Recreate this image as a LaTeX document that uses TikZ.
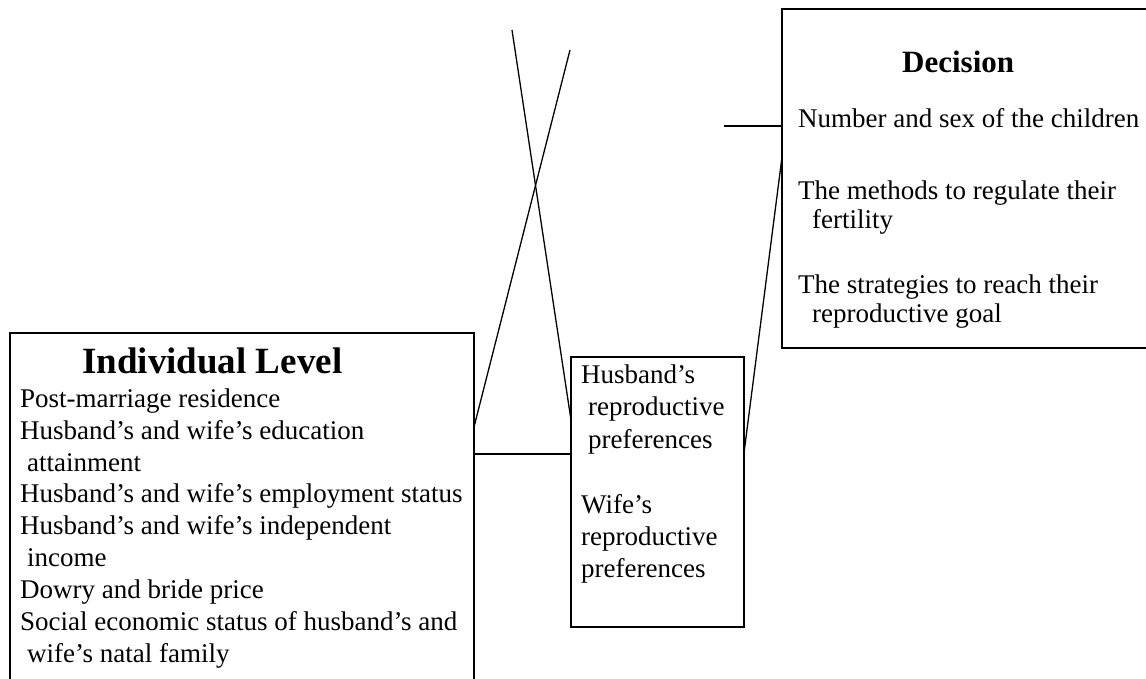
\documentclass[tikz,border=0pt]{standalone}
\usepackage{fontspec}
\setmainfont{Liberation Serif}
\begin{document}
\begin{tikzpicture}[x=1pt,y=-1pt,
  area/.style={rectangle,inner sep=0pt,outer sep=0pt},
  line/.style={line width=1.3pt,black},
  txt/.style={inner sep=0pt,anchor=base west,font=\fontsize{27}{32}\selectfont},
  ttl/.style={inner sep=0pt,anchor=base west,font=\bfseries\fontsize{#1}{40}\selectfont}]
\useasboundingbox (0,0) rectangle (1146,679);
% areas of the three boxes
\node[area,minimum width=464pt,minimum height=346pt] (ind) at (242,506) {};
\node[area,minimum width=173pt,minimum height=270pt] (pref) at (657.5,492) {};
\node[area,minimum width=364pt,minimum height=339pt] (dec) at (964,178.5) {};
% box outlines (left box runs off the bottom, decision box off the right)
\draw[line] (ind.south west) -- (ind.north west) -- (ind.north east) -- (ind.south east);
\draw[line] (pref.north west) rectangle (pref.south east);
\draw[line] (dec.north east) -- (dec.north west) -- (dec.south west) -- (dec.south east);
% free ends
\coordinate (topA) at (570,50);
\coordinate (topB) at (512,30);
\coordinate (freeC) at (724,126);
% connectors
\draw[line] (ind.east |- {(0,427)}) -- (topA);
\draw[line] (topB) -- (pref.west |- {(0,420)});
\draw[line] (ind.east |- {(0,454)}) -- (pref.west |- {(0,454)});
\draw[line] (pref.east |- {(0,453)}) -- (dec.west |- {(0,157)});
\draw[line] (freeC) -- (dec.west |- {(0,126)});
% texts of the individual level box
\node[ttl=37] (indt) at (82,373) {Individual Level};
\foreach \t/\x/\y [count=\i] in {
  Post-marriage residence/20/407,
  Husband’s and wife’s education/20/439,
  attainment/27/471,
  Husband’s and wife’s employment status/20/502,
  Husband’s and wife’s independent/20/534,
  income/27/566,
  Dowry and bride price/20/598,
  Social economic status of husband’s and/20/630,
  wife’s natal family/27/662}
  \node[txt] (il\i) at (\x,\y) {\t};
% texts of the preferences box
\foreach \t/\x/\y [count=\i] in {
  Husband’s/581/383,
  reproductive/588/415,
  preferences/588/448,
  Wife’s/581/513,
  reproductive/581/545,
  preferences/581/577}
  \node[txt] (pl\i) at (\x,\y) {\t};
% texts of the decision box
\node[ttl=31] (dect) at (902,73) {Decision};
\foreach \t/\x/\y [count=\i] in {
  Number and sex of the children/798/128,
  The methods to regulate their/798/200,
  fertility/812/229,
  The strategies to reach their/798/293,
  reproductive goal/812/322}
  \node[txt] (dl\i) at (\x,\y) {\t};
\end{tikzpicture}
\end{document}
